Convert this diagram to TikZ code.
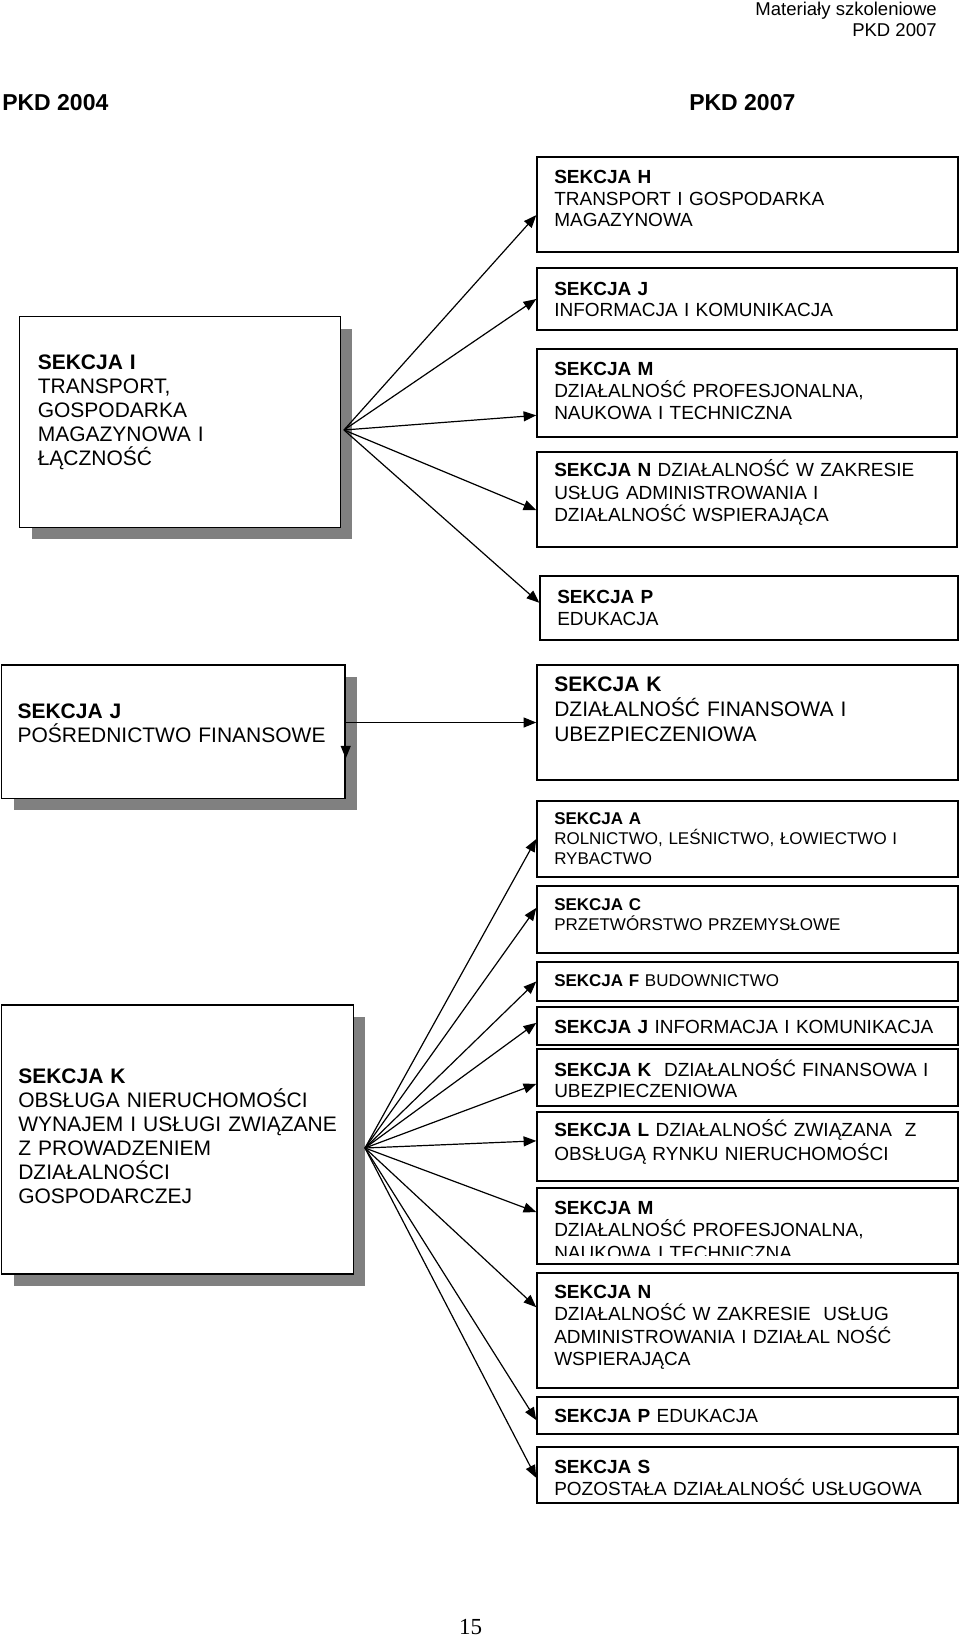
\documentclass[tikz,border=0pt]{standalone}
\usepackage{fontspec}
\setmainfont{Liberation Sans}
\newfontfamily\pgnumfont{Liberation Serif}
\usetikzlibrary{arrows.meta,calc,fit}
\definecolor{shadowgray}{RGB}{128,128,128}
\begin{document}
\begin{tikzpicture}[x=0.75pt,y=-0.75pt,
  box/.style={draw=black,line width=1.1pt,fill=white,inner sep=0pt},
  shadow/.style={fill=shadowgray,draw=none},
  arr/.style={-{Triangle[length=9.5pt,width=7.5pt]},line width=0.9pt},
  tf/.style 2 args={anchor=base west,inner sep=0pt,text width=330pt,align=left,font=\fontsize{#1}{#2}\selectfont},
  hdr/.style={inner sep=0pt,font=\fontsize{13.9pt}{16pt}\selectfont},
  big/.style={anchor=base west,inner sep=0pt,font=\fontsize{17.25pt}{20pt}\selectfont\bfseries}
]
\useasboundingbox (0,0) rectangle (960,1638);

% header
\node[hdr,anchor=base east] (hd1) at (937,16) {Materiały szkoleniowe};
\node[hdr,anchor=base east] (hd2) at (937,36.7) {PKD 2007};
\node[big] (pkd4) at (2,110) {PKD 2004};
\node[big] (pkd7) at (689,110) {PKD 2007};

% left boxes with shadows
\fill[shadow] (31.6,328.7) rectangle (352.4,539.3);
\node[box,fit={(19.6,316.7) (340.4,527.3)}] (I) {};
\fill[shadow] (13.7,677) rectangle (357,810.3);
\node[box,fit={(1.7,665) (345,798.3)}] (LJ) {};
\fill[shadow] (13.7,1017) rectangle (365.3,1286);
\node[box,fit={(1.7,1005) (353.3,1274)}] (LK) {};

% right top group
\node[box,fit={(537,157) (958,252)}] (H) {};
\node[box,fit={(537,268) (957,330)}] (RJ) {};
\node[box,fit={(537,349) (957,437)}] (RM) {};
\node[box,fit={(537,452) (957,547)}] (RN) {};
\node[box,fit={(540,576) (958,640)}] (RP) {};
\node[box,fit={(537,665) (958,780)}] (RK) {};

% right bottom group
\node[box,fit={(537,801) (958,877)}] (A) {};
\node[box,fit={(537,886) (958,953)}] (C) {};
\node[box,fit={(537,962) (958,1001)}] (F) {};
\node[box,fit={(537,1007) (958,1045)}] (J2) {};
\node[box,fit={(537,1049) (958,1106)}] (K2) {};
\node[box,fit={(537,1112) (958,1181)}] (L) {};
\node[box,fit={(537,1188) (958,1264)}] (M2) {};
\node[box,fit={(537,1273) (958,1388)}] (N2) {};
\node[box,fit={(537,1397) (958,1434)}] (P2) {};
\node[box,fit={(537,1447) (958,1503)}] (S) {};

% texts, left
\node[tf={15.75pt}{18.15pt}] (Itx) at (37.5,369) {\textbf{SEKCJA I}\\TRANSPORT,\\GOSPODARKA\\MAGAZYNOWA I\\ŁĄCZNOŚĆ};
\node[tf={15.75pt}{18.3pt}] (LJtx) at (17.3,718.3) {\textbf{SEKCJA J}\\POŚREDNICTWO FINANSOWE};
\node[tf={15.75pt}{18.1pt}] (LKtx) at (18,1083) {\textbf{SEKCJA K}\\OBSŁUGA NIERUCHOMOŚCI\\WYNAJEM I USŁUGI ZWIĄZANE\\Z PROWADZENIEM\\DZIAŁALNOŚCI\\GOSPODARCZEJ};

% texts, right top
\node[tf={14.25pt}{16.3pt}] (Htx) at (554,183.3) {\textbf{SEKCJA H}\\TRANSPORT I GOSPODARKA\\MAGAZYNOWA};
\node[tf={14.25pt}{16.3pt}] (RJtx) at (554,295) {\textbf{SEKCJA J}\\INFORMACJA I KOMUNIKACJA};
\node[tf={14.25pt}{16.8pt}] (RMtx) at (554,375) {\textbf{SEKCJA M}\\DZIAŁALNOŚĆ PROFESJONALNA,\\NAUKOWA I TECHNICZNA};
\node[tf={14.25pt}{16.8pt}] (RNtx) at (554,476.7) {\textbf{SEKCJA N} DZIAŁALNOŚĆ W ZAKRESIE\\USŁUG ADMINISTROWANIA I\\DZIAŁALNOŚĆ WSPIERAJĄCA};
\node[tf={14.25pt}{16.3pt}] (RPtx) at (557,603.3) {\textbf{SEKCJA P}\\EDUKACJA};
\node[tf={15.75pt}{18.9pt}] (RKtx) at (554,691) {\textbf{SEKCJA K}\\DZIAŁALNOŚĆ FINANSOWA I\\UBEZPIECZENIOWA};

% texts, right bottom
\node[tf={12.75pt}{15pt}] (Atx) at (554,824.3) {\textbf{SEKCJA A}\\ROLNICTWO, LEŚNICTWO, ŁOWIECTWO I\\RYBACTWO};
\node[tf={12.75pt}{15pt}] (Ctx) at (554,910) {\textbf{SEKCJA C}\\PRZETWÓRSTWO PRZEMYSŁOWE};
\node[tf={12.75pt}{15pt}] (Ftx) at (554,986.7) {\textbf{SEKCJA F} BUDOWNICTWO};
\node[tf={14.25pt}{16.5pt}] (J2tx) at (554,1033.3) {\textbf{SEKCJA J} INFORMACJA I KOMUNIKACJA};
\node[tf={14.25pt}{16pt}] (K2tx) at (554,1076) {\textbf{SEKCJA K}\ \ DZIAŁALNOŚĆ FINANSOWA I\\UBEZPIECZENIOWA};
\node[tf={14.25pt}{18pt}] (Ltx) at (554,1136.7) {\textbf{SEKCJA L} DZIAŁALNOŚĆ ZWIĄZANA\ \ Z\\OBSŁUGĄ RYNKU NIERUCHOMOŚCI};
\begin{scope}
\clip (537,1188) rectangle (958,1255.5);
\node[tf={14.25pt}{17pt}] (M2tx) at (554,1214) {\textbf{SEKCJA M}\\DZIAŁALNOŚĆ PROFESJONALNA,\\NAUKOWA I TECHNICZNA};
\end{scope}
\node[tf={14.25pt}{16.85pt}] (N2tx) at (554,1298.3) {\textbf{SEKCJA N}\\DZIAŁALNOŚĆ W ZAKRESIE\ \ USŁUG\\ADMINISTROWANIA I DZIAŁAL NOŚĆ\\WSPIERAJĄCA};
\node[tf={14.25pt}{16.5pt}] (P2tx) at (554,1422.7) {\textbf{SEKCJA P} EDUKACJA};
\node[tf={14.25pt}{16.5pt}] (Stx) at (554,1473.3) {\textbf{SEKCJA S}\\POZOSTAŁA DZIAŁALNOŚĆ USŁUGOWA};

% page number
\node[anchor=base,inner sep=0pt,font=\pgnumfont\fontsize{17.25pt}{20pt}\selectfont] (pg) at (470.5,1634) {15};

% connectors from SEKCJA I
\coordinate (oI) at (344,430);
\draw[arr] (oI) -- ($(H.north west)!0.61!(H.south west)$);
\draw[arr] (oI) -- (RJ.west);
\draw[arr] (oI) -- ($(RM.north west)!0.75!(RM.south west)$);
\draw[arr] (oI) -- ($(RN.north west)!0.61!(RN.south west)$);
\draw[arr] (oI) -- ($(RP.north west)!0.42!(RP.south west)$);

% connectors from SEKCJA J
\coordinate (jdown) at ($(LJ.east |- RK.west)+(0,36)$);
\draw[arr] (LJ.east |- RK.west) -- (RK.west);
\draw[arr] (LJ.east |- RK.west) -- (jdown);

% connectors from SEKCJA K
\coordinate (oK) at (365,1148);
\draw[arr] (oK) -- (A.west);
\draw[arr] (oK) -- ($(C.north west)!0.33!(C.south west)$);
\draw[arr] (oK) -- (F.west);
\draw[arr] (oK) -- ($(J2.north west)!0.42!(J2.south west)$);
\draw[arr] (oK) -- ($(K2.north west)!0.61!(K2.south west)$);
\draw[arr] (oK) -- ($(L.north west)!0.42!(L.south west)$);
\draw[arr] (oK) -- ($(M2.north west)!0.32!(M2.south west)$);
\draw[arr] (oK) -- ($(N2.north west)!0.3!(N2.south west)$);
\draw[arr] (oK) -- ($(P2.north west)!0.62!(P2.south west)$);
\draw[arr] (oK) -- ($(S.north west)!0.55!(S.south west)$);
\end{tikzpicture}
\end{document}
